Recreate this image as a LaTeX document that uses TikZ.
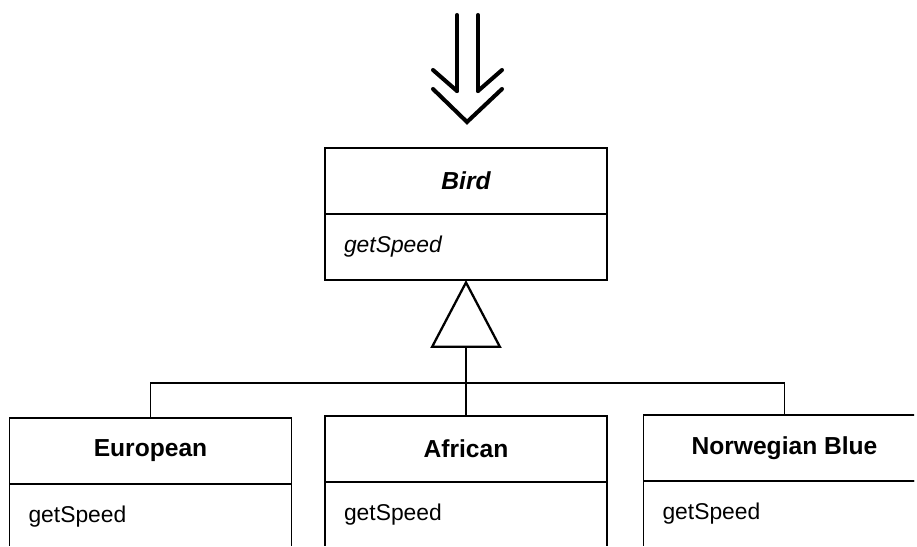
\documentclass[tikz,border=0pt]{standalone}
\usepackage{fontspec}
\setmainfont{Liberation Sans}
\usetikzlibrary{arrows.meta, positioning}

\begin{document}
\begin{tikzpicture}[
      x=0.02cm, y=-0.02cm,
      node distance=0pt,
      classhead/.style={
        rectangle, draw, line width=1.1pt, outer sep=0pt,
        minimum width=5.64cm, minimum height=1.32cm,
        font=\fontsize{14}{16}\selectfont\bfseries
      },
      classbody/.style={classhead, font=\fontsize{13}{15}\selectfont,
        text width=4.88cm, inner xsep=0.38cm, align=left},
      link/.style={line width=1.1pt},
      inherit/.style={link,
        -{Triangle[open, length=1.36cm, width=1.42cm, line width=1.3pt]}},
      refactor/.style={line width=2.3pt, line cap=round, line join=miter},
    ]
      \useasboundingbox (0,0) rectangle (917,547);
      \clip (-5,-5) rectangle (914,545);

      % refactoring arrow
      \draw[refactor] (457,15) -- (457,91) (478,15) -- (478,91);
      \draw[refactor] (433,70) -- (457,91) (478,91) -- (502,70);
      \draw[refactor] (433,89) -- (467,122) -- (502,89);

      % abstract superclass
      \node[classhead, font=\fontsize{14}{16}\selectfont\bfseries\itshape] (bird) at (466,181) {Bird};
      \node[classbody, font=\fontsize{13}{15}\selectfont\itshape, below=of bird] (birdops) {getSpeed};

      % subclasses
      \node[classhead] (eu) at (150.5,451) {European};
      \node[classbody, below=of eu] (euops) {getSpeed};
      \node[classhead] (af) at (466,449) {African};
      \node[classbody, below=of af] (afops) {getSpeed};
      \node[classhead] (nb) at (784.5,448) {Norwegian Blue};
      \node[classbody, below=of nb] (nbops) {getSpeed};

      % generalization
      \coordinate (junction) at (466,383);
      \draw[link] (eu.north) |- (junction) -| (nb.north);
      \draw[inherit] (af.north) -- (birdops.south);
    \end{tikzpicture}
\end{document}
